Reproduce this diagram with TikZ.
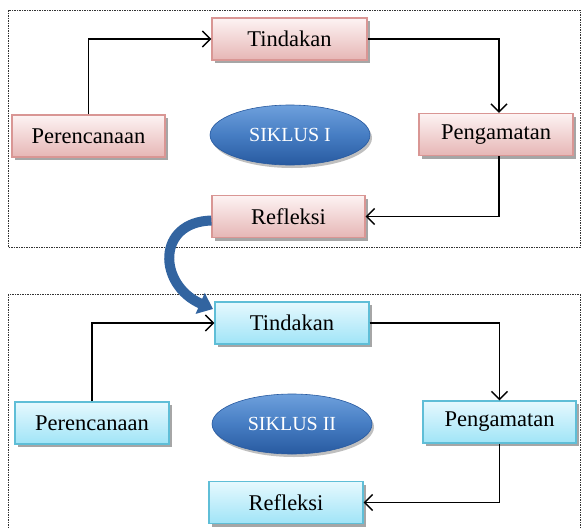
\documentclass[tikz,border=0pt]{standalone}
\usepackage{fontspec}
\setmainfont{Liberation Serif}
\usepackage{tikz}
\usetikzlibrary{positioning}
\usetikzlibrary{arrows.meta}
\usetikzlibrary{shadows}
\usetikzlibrary{shapes.geometric}
\pgfdeclarelayer{framelayer}
\pgfdeclarelayer{nodelayer}
\pgfdeclarelayer{edgelayer}
\pgfsetlayers{framelayer,nodelayer,edgelayer,main}
\definecolor{pinkline}{RGB}{217,150,148}
\definecolor{pinktop}{RGB}{253,243,243}
\definecolor{pinkbot}{RGB}{230,182,181}
\definecolor{cyanline}{RGB}{95,190,215}
\definecolor{cyantop}{RGB}{230,249,254}
\definecolor{cyanbot}{RGB}{160,228,247}
\definecolor{sikluslight}{RGB}{110,160,220}
\definecolor{siklusmid}{RGB}{70,125,195}
\definecolor{siklusdark}{RGB}{40,90,160}
\definecolor{curvearrow}{RGB}{50,100,160}
\tikzset{
    boxbase/.style = {rectangle, minimum width=153pt, minimum height=42pt, inner sep=0pt,
        line width=1.2pt, font=\fontsize{22.5}{27}\selectfont,
        drop shadow={shadow xshift=3pt, shadow yshift=-3pt, fill=black, opacity=0.35}},
    pinkbox/.style = {boxbase, draw=pinkline, top color=pinktop, bottom color=pinkbot},
    bluebox/.style = {boxbase, draw=cyanline, top color=cyantop, bottom color=cyanbot},
    siklus/.style = {ellipse, minimum width=160pt, minimum height=60pt, inner sep=0pt,
        draw=siklusdark, line width=0.6pt, top color=sikluslight, bottom color=siklusdark,
        middle color=siklusmid, text=white, font=\fontsize{20}{24}\selectfont,
        drop shadow={shadow xshift=2pt, shadow yshift=-3pt, fill=black, opacity=0.25}},
    frame/.style = {draw=black!80, line width=0.6pt, dash pattern=on 1.5pt off 1pt},
    flow/.style = {draw=black, line width=1.5pt, -{Straight Barb[length=8pt, width=16pt, line width=1.5pt]}},
    bigarrow/.style = {draw=curvearrow, line width=10pt, -{Triangle[length=14pt, width=22pt]}}
}
\begin{document}
\begin{tikzpicture}[x=1pt, y=-1pt]
  \useasboundingbox (0, 0) rectangle (582, 528);
  \begin{pgfonlayer}{framelayer}
    \draw [style=frame] (8, 10) rectangle (580, 247);
    \draw [style=frame] (8, 294) rectangle (580, 540);
  \end{pgfonlayer}
  \begin{pgfonlayer}{nodelayer}
    % siklus I
    \node [style=pinkbox, minimum width=155pt] (0) at (289.5, 39) {Tindakan};
    \node [style=pinkbox] (1) at (88.5, 136) {Perencanaan};
    \node [style=pinkbox, minimum width=154pt] (2) at (496, 134.5) {Pengamatan};
    \node [style=pinkbox] (3) at (288.5, 216.5) {Refleksi};
    \node [style=siklus] (4) at (290, 135) {SIKLUS I};
    % siklus II
    \node [style=bluebox, minimum width=154pt] (5) at (292, 323) {Tindakan};
    \node [style=bluebox, minimum width=154pt] (6) at (92, 423) {Perencanaan};
    \node [style=bluebox] (7) at (499.5, 422) {Pengamatan};
    \node [style=bluebox, minimum width=154pt] (8) at (286, 502.5) {Refleksi};
    \node [style=siklus] (9) at (292, 424) {SIKLUS II};
    \coordinate (10) at (213, 309);
  \end{pgfonlayer}
  \begin{pgfonlayer}{edgelayer}
    \draw [style=flow] (1.north) |- (0.west);
    \draw [style=flow] (0.east) -| ([xshift=3pt]2.north);
    \draw [style=flow] ([xshift=3pt]2.south) |- (3.east);
    \draw [style=flow] (6.north) |- (5.west);
    \draw [style=flow] (5.east) -| (7.north);
    \draw [style=flow] (7.south) |- (8.east);
    \draw [style=bigarrow] ([yshift=-4pt]3.west) .. controls (156, 222) and (158, 285) .. (10);
  \end{pgfonlayer}
\end{tikzpicture}
\end{document}
